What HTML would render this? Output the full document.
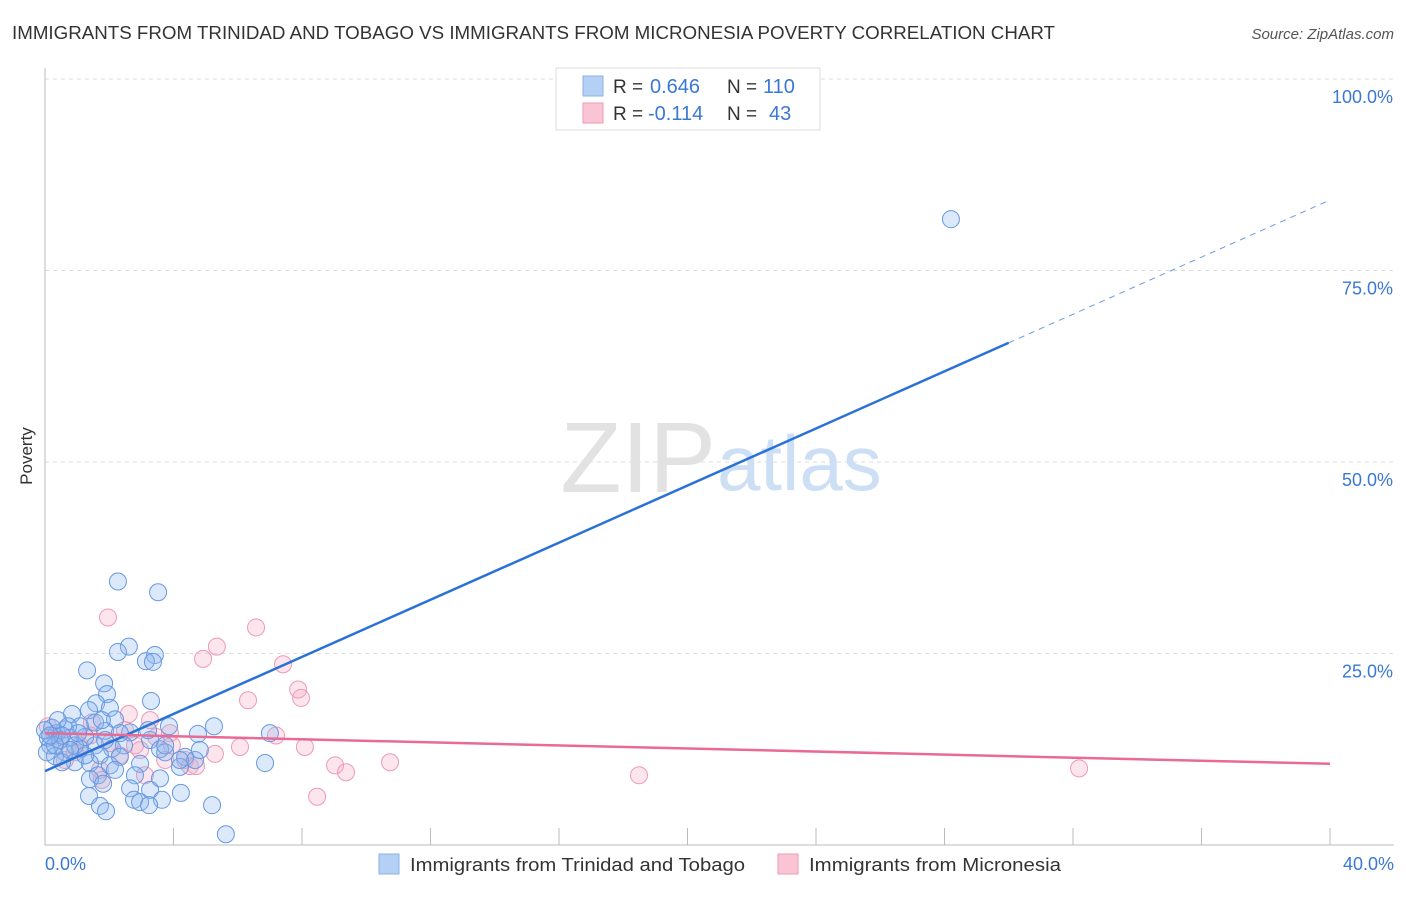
<!DOCTYPE html>
<html><head><meta charset="utf-8">
<style>
body{margin:0;background:#fff;font-family:"Liberation Sans",sans-serif;}
svg text{font-family:"Liberation Sans",sans-serif;}
</style></head>
<body>
<svg id="chart" width="1406" height="892" xmlns="http://www.w3.org/2000/svg">
<text x="12" y="39" font-size="18" fill="#333" textLength="1043" lengthAdjust="spacingAndGlyphs">IMMIGRANTS FROM TRINIDAD AND TOBAGO VS IMMIGRANTS FROM MICRONESIA POVERTY CORRELATION CHART</text>
<text x="1394" y="39" font-size="15" fill="#555" font-style="italic" text-anchor="end">Source: ZipAtlas.com</text>
<g id="grid"></g>
<text x="716" y="492" font-size="100" fill="#e2e2e2" text-anchor="end" font-family="Liberation Serif">ZIP</text>
<text x="717" y="490" font-size="78" fill="#cddff4">atlas</text>
<line x1="45" y1="68" x2="45" y2="845" stroke="#bbb"/>
<line x1="45" y1="845" x2="1394" y2="845" stroke="#bbb"/>
<g id="xticks"></g>
<g id="ylabels"></g>
<text x="32" y="456" font-size="17" fill="#333" transform="rotate(-90 32 456)" text-anchor="middle">Poverty</text>
<text x="45" y="870" font-size="18" fill="#3a78d4">0.0%</text>
<text x="1394" y="870" font-size="18" fill="#3a78d4" text-anchor="end">40.0%</text>
<g id="pinkpts"></g>
<g id="bluepts"></g>
<g id="lines"></g>
<g>
<rect x="556" y="68" width="264" height="62" fill="#fff" stroke="#ddd"/>
<rect x="583" y="76" width="20" height="20" fill="#b5d0f5" stroke="#8ab0e8"/>
<rect x="583" y="103" width="20" height="20" fill="#f9c5d5" stroke="#ee9ab5"/>
<text x="613" y="93" font-size="19" fill="#333">R =</text>
<text x="650" y="93" font-size="20" fill="#3a78d4">0.646</text>
<text x="727" y="93" font-size="19" fill="#333">N =</text>
<text x="763" y="93" font-size="20" fill="#3a78d4">110</text>
<text x="613" y="120" font-size="19" fill="#333">R =</text>
<text x="648" y="120" font-size="20" fill="#3a78d4">-0.114</text>
<text x="727" y="120" font-size="19" fill="#333">N =</text>
<text x="769" y="120" font-size="20" fill="#3a78d4">43</text>
</g>
<g>
<rect x="379" y="854" width="20" height="20" fill="#b5d0f5" stroke="#8ab0e8"/>
<text x="410" y="871" font-size="18" fill="#333" textLength="335" lengthAdjust="spacingAndGlyphs">Immigrants from Trinidad and Tobago</text>
<rect x="778" y="854" width="20" height="20" fill="#f9c5d5" stroke="#ee9ab5"/>
<text x="809" y="871" font-size="18" fill="#333" textLength="252" lengthAdjust="spacingAndGlyphs">Immigrants from Micronesia</text>
</g>
</svg>
<script>
const yTicks=[25,50,75,100];
const yTickLabels=["25.0%","50.0%","75.0%","100.0%"];
const xTicks=[0,4,8,12,16,20,24,28,32,36,40];
const blueX=[2.27,3.52,2.61,2.27,3.42,3.14,3.36,1.31,1.84,3.30,1.93,1.59,0.84,1.37,2.02,2.18,3.86,5.26,1.09,0.62,0.37,1.87,2.65,7.00,4.76,3.27,3.58,2.09,2.46,1.56,1.09,0.62,0.31,1.71,2.33,3.74,4.36,4.67,0.93,1.40,2.02,2.96,4.20,6.85,0.53,0.16,0.09,0.22,0.78,1.25,1.87,2.80,3.58,1.65,1.40,1.81,2.65,4.23,3.27,2.77,2.96,3.64,1.37,1.71,1.90,3.24,5.20,5.63,0.47,0.93,0.40,0.72,1.56,0,0.06,2.33,3.21,4.20,4.82,3.74,2.18,1.25,1.77,0.53,1.03,28.2,0.31,0.16,0.78];
const blueY=[34.4,33.0,25.9,25.2,24.8,24.0,23.9,22.8,21.1,18.8,19.7,18.5,17.1,17.6,17.9,16.4,15.5,15.5,15.5,15.1,14.6,14.9,14.7,14.6,14.5,13.7,12.5,12.6,13.0,13.0,12.6,12.1,11.6,11.7,11.5,12.1,11.5,11.1,10.8,10.7,10.4,10.6,10.2,10.7,10.8,13.0,14.0,15.3,14.0,14.1,13.7,9.1,8.7,9.1,8.6,8.0,7.4,6.8,7.2,5.9,5.6,5.9,6.4,5.1,4.4,5.2,5.2,1.4,13.7,13.0,16.3,15.5,16.0,15.0,12.1,14.6,15.0,11.1,12.4,13.0,9.8,11.7,16.3,14.3,14.6,81.7,13.0,14.3,12.4];
const pinkX=[1.96,6.57,5.35,4.92,7.41,7.88,7.97,6.32,2.61,1.46,0.09,3.46,3.95,6.07,7.19,8.09,5.29,4.36,4.51,9.03,9.37,10.74,8.47,18.49,32.19,0.47,1.09,2.02,2.33,2.96,3.74,2.49,1.71,0.93,0.31,3.11,3.89,1.77,4.70,3.27,1.40,0.62,2.80];
const pinkY=[29.7,28.4,25.9,24.3,23.6,20.3,19.2,18.9,17.1,16.0,15.5,14.1,13.0,12.8,14.3,12.8,11.9,11.1,10.3,10.4,9.5,10.8,6.3,9.1,10.0,13.7,13.0,13.3,11.7,12.4,11.1,15.0,9.8,12.1,14.3,9.1,14.6,8.5,10.3,16.3,14.3,11.1,13.0];
const blueTrend=[9.65,84.2];
const pinkTrend=[14.6,10.6];
const blueSolidEnd=30.0;

const NS="http://www.w3.org/2000/svg";
const sx=v=>45+v*(1330-45)/40;
const sy=v=>845-v*(845-79)/100;
function mk(tag,attrs,parent){const e=document.createElementNS(NS,tag);for(const k in attrs)e.setAttribute(k,attrs[k]);parent.appendChild(e);return e;}
const grid=document.getElementById('grid');
yTicks.forEach((t,i)=>{
  const l=mk('line',{x1:45,x2:1394,y1:sy(t),y2:sy(t),stroke:'#ddd','stroke-dasharray':'4,4'},grid);
  
  
  const tx=mk('text',{x:1393,y:sy(t)+24,'font-size':18,fill:'#3a78d4','text-anchor':'end'},document.getElementById('ylabels'));
  tx.textContent=yTickLabels[i];
  
  
});
xTicks.forEach(t=>{
  if(t===0)return;
  const l=mk('line',{x1:sx(t),x2:sx(t),y1:828,y2:845,stroke:'#bbb'},document.getElementById('xticks'));
  
  
});
const pp=document.getElementById('pinkpts');
pinkX.forEach((x,i)=>{
  const c=mk('circle',{cx:sx(x),cy:sy(pinkY[i]),r:8.5,fill:'rgba(246,170,196,0.3)',stroke:'#ee9ab5','stroke-width':1},pp);
  
  
});
const bp=document.getElementById('bluepts');
blueX.forEach((x,i)=>{
  const c=mk('circle',{cx:sx(x),cy:sy(blueY[i]),r:8.5,fill:'rgba(140,182,238,0.3)',stroke:'#6698e2','stroke-width':1},bp);
  
  
});
const lg=document.getElementById('lines');
const bAt=x=>blueTrend[0]+(blueTrend[1]-blueTrend[0])*x/40;
let l1=mk('line',{x1:sx(0),y1:sy(bAt(0)),x2:sx(blueSolidEnd),y2:sy(bAt(blueSolidEnd)),stroke:'#2a72d8','stroke-width':2.5},lg);


let l2=mk('line',{x1:sx(blueSolidEnd),y1:sy(bAt(blueSolidEnd)),x2:sx(40),y2:sy(bAt(40)),stroke:'#6a9de0','stroke-width':1,'stroke-dasharray':'6,5'},lg);


let l3=mk('line',{x1:sx(0),y1:sy(pinkTrend[0]),x2:sx(40),y2:sy(pinkTrend[1]),stroke:'#e86a95','stroke-width':2.5},lg);


</script>
</body></html>
